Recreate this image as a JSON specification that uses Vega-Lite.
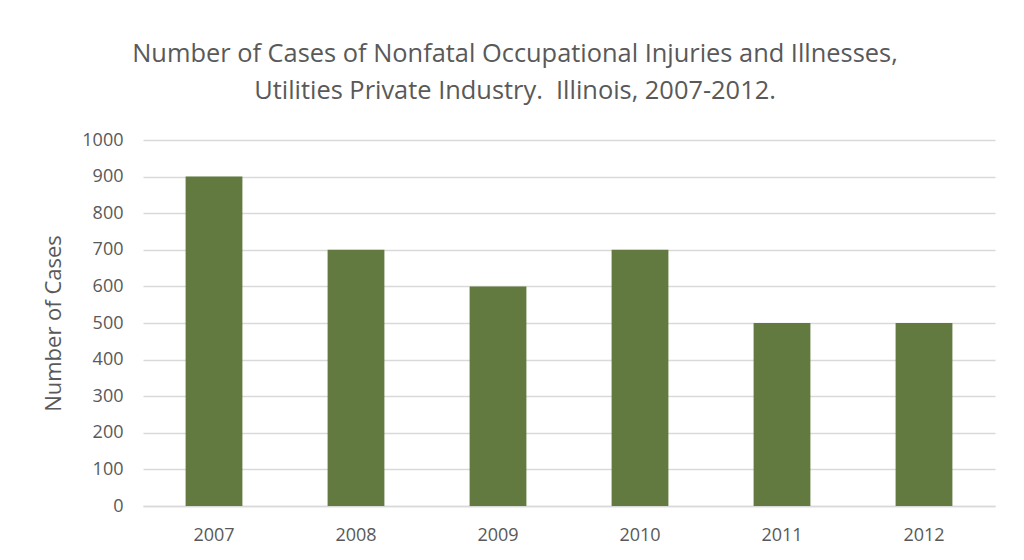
{
  "$schema": "https://vega.github.io/schema/vega-lite/v6.json",
  "autosize": {"type": "none"},
  "width": 852,
  "height": 366,
  "padding": {"left": 143, "top": 140, "right": 29, "bottom": 54},
  "background": "white",
  "title": {
    "text": ["Number of Cases of Nonfatal Occupational Injuries and Illnesses,", "Utilities Private Industry.\u00a0 Illinois, 2007-2012."],
    "font": "Open Sans",
    "fontSize": 25.4,
    "fontWeight": "normal",
    "color": "#595959",
    "anchor": "middle",
    "dx": -54,
    "offset": 27,
    "lineHeight": 37
  },
  "data": {
    "values": [
      {"year": "2007", "cases": 900},
      {"year": "2008", "cases": 700},
      {"year": "2009", "cases": 600},
      {"year": "2010", "cases": 700},
      {"year": "2011", "cases": 500},
      {"year": "2012", "cases": 500}
    ]
  },
  "mark": {"type": "bar", "color": "#627A3F"},
  "encoding": {
    "x": {
      "field": "year",
      "type": "ordinal",
      "scale": {"paddingInner": 0.6, "paddingOuter": 0.3},
      "axis": {
        "title": null,
        "labelAngle": 0,
        "labelFont": "Open Sans",
        "labelFontSize": 18,
        "labelColor": "#595959",
        "labelPadding": 20,
        "ticks": false,
        "domainColor": "#D9D9D9",
        "domainWidth": 1.5
      }
    },
    "y": {
      "field": "cases",
      "type": "quantitative",
      "scale": {"domain": [0, 1000]},
      "axis": {
        "title": "Number of Cases",
        "titleFont": "Open Sans",
        "titleFontSize": 22,
        "titleFontWeight": "normal",
        "titleColor": "#595959",
        "titlePadding": 16,
        "values": [0, 100, 200, 300, 400, 500, 600, 700, 800, 900, 1000],
        "format": "d",
        "labelFont": "Open Sans",
        "labelFontSize": 18,
        "labelColor": "#595959",
        "labelPadding": 20,
        "ticks": false,
        "domain": false,
        "gridColor": "#D9D9D9",
        "gridWidth": 1.5
      }
    }
  },
  "config": {"view": {"stroke": null}}
}
